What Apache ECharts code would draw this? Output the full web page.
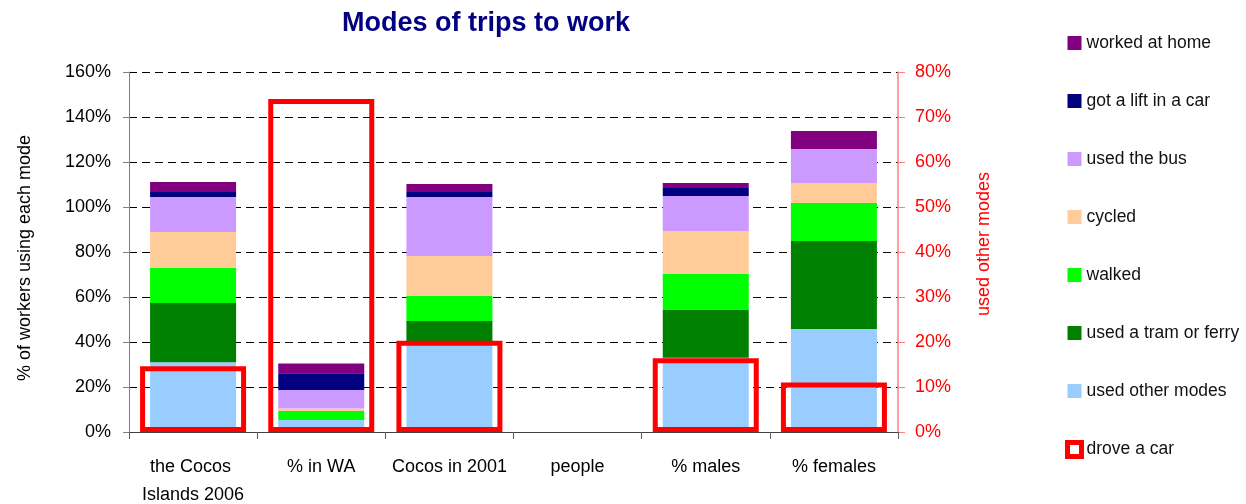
<!DOCTYPE html>
<html>
<head>
<meta charset="utf-8">
<script src="https://cdn.jsdelivr.net/npm/echarts@6/dist/echarts.min.js"></script>
<style>
  html, body { margin: 0; padding: 0; background: #ffffff; }
  #chart { width: 1246px; height: 504px; }
</style>
</head>
<body>
<div id="chart"></div>
<script>
// Categories along the bottom axis
const categories = ['the Cocos Islands 2006', '% in WA', 'Cocos in 2001', 'people', '% males', '% females'];

// Stacked modes (left axis, % of workers)
const usedOtherModes = [31.0, 5.3, 40.0, null, 33.0, 45.8];
const usedTramOrFerry = [26.3, 0, 9.3, null, 21.2, 39.1];
const walked = [15.6, 4.0, 11.1, null, 16.0, 16.9];
const cycled = [16.0, 1.2, 17.8, null, 19.1, 8.9];
const usedTheBus = [15.5, 8.2, 26.2, null, 15.6, 15.1];
const gotALift = [2.3, 7.4, 2.3, null, 3.5, 0];
const workedAtHome = [4.4, 4.4, 3.5, null, 2.3, 8.0];

// Drove a car (right axis)
const droveACar = [14.6, 74.0, 20.3, null, 16.4, 11.0];

// Axis tick settings
const leftMax = 160, leftStep = 20;
const rightMax = 80, rightStep = 10;

const FONT = "'Liberation Sans', Arial, Helvetica, sans-serif";

const stackDefs = [
  ['used other modes', usedOtherModes, '#99CCFF'],
  ['used a tram or ferry', usedTramOrFerry, '#008000'],
  ['walked', walked, '#00FF00'],
  ['cycled', cycled, '#FFCC99'],
  ['used the bus', usedTheBus, '#CC99FF'],
  ['got a lift in a car', gotALift, '#000080'],
  ['worked at home', workedAtHome, '#800080']
];

const series = stackDefs.map(([name, data, color]) => ({
  name: name,
  type: 'bar',
  stack: 'modes',
  xAxisIndex: 0,
  yAxisIndex: 0,
  barWidth: 86,
  data: data,
  itemStyle: { color: color },
  z: 2
}));

// Outlined boxes on the second (hidden) category axis so they centre independently
series.push({
  name: 'drove a car',
  type: 'bar',
  xAxisIndex: 1,
  yAxisIndex: 1,
  barWidth: 106,
  data: droveACar,
  itemStyle: { color: 'rgba(0,0,0,0)', borderColor: '#FF0000', borderWidth: 5 },
  z: 5
});

const legendOrder = ['worked at home', 'got a lift in a car', 'used the bus', 'cycled',
  'walked', 'used a tram or ferry', 'used other modes', 'drove a car'];

const chart = echarts.init(document.getElementById('chart'), null, { renderer: 'canvas' });
chart.setOption({
  animation: false,
  backgroundColor: '#ffffff',
  textStyle: { fontFamily: FONT },
  title: {
    text: 'Modes of trips to work',
    left: 342,
    top: 10,
    padding: 0,
    textStyle: { fontFamily: FONT, fontSize: 27, fontWeight: 'bold', color: '#000080' }
  },
  legend: {
    orient: 'vertical',
    left: 1065,
    top: 34,
    padding: 0,
    icon: 'rect',
    itemWidth: 14,
    itemHeight: 14,
    itemGap: 40,
    textStyle: { fontFamily: FONT, fontSize: 17.5, color: '#111111', lineHeight: 18 },
    data: legendOrder.map(n => n === 'drove a car'
      ? { name: n, itemStyle: { color: '#FFFFFF', borderColor: '#FF0000', borderWidth: 5 } }
      : { name: n })
  },
  grid: {
    left: 129,
    right: 348,
    top: 72,
    bottom: 72,
    containLabel: false,
    outerBoundsMode: 'none'
  },
  xAxis: [
    {
      type: 'category',
      data: categories,
      gridIndex: 0,
      axisLine: { show: true, lineStyle: { color: '#404040', width: 1 } },
      axisTick: { show: true, length: 7, lineStyle: { color: '#606060' } },
      axisLabel: {
        interval: 0,
        margin: 21,
        fontFamily: FONT,
        fontSize: 18,
        lineHeight: 28,
        color: '#000000',
        width: 125,
        overflow: 'break'
      },
      splitLine: { show: false }
    },
    {
      type: 'category',
      data: categories,
      gridIndex: 0,
      show: false
    }
  ],
  yAxis: [
    {
      type: 'value',
      min: 0,
      max: leftMax,
      interval: leftStep,
      position: 'left',
      name: '% of workers using each mode',
      nameLocation: 'middle',
      nameGap: 95,
      nameTextStyle: { fontFamily: FONT, fontSize: 18, color: '#000000', padding: [0, 12, 0, 0] },
      axisLine: { show: true, lineStyle: { color: '#808080', width: 1 } },
      axisTick: { show: true, length: 6, lineStyle: { color: '#808080' } },
      axisLabel: { formatter: '{value}%', margin: 18, fontFamily: FONT, fontSize: 18, color: '#000000' },
      splitLine: { show: true, lineStyle: { color: '#000000', width: 1, type: [8, 5] } }
    },
    {
      type: 'value',
      min: 0,
      max: rightMax,
      interval: rightStep,
      position: 'right',
      name: 'used other modes',
      nameLocation: 'middle',
      nameGap: 77,
      nameTextStyle: { fontFamily: FONT, fontSize: 18, color: '#FF0000', padding: [0, 0, 0, 16] },
      axisLine: { show: true, lineStyle: { color: '#FF7F7F', width: 1.5 } },
      axisTick: { show: true, length: 7, lineStyle: { color: '#FF7F7F' } },
      axisLabel: { formatter: '{value}%', margin: 17, fontFamily: FONT, fontSize: 18, color: '#FF0000' },
      splitLine: { show: false }
    }
  ],
  series: series
});
</script>
</body>
</html>
